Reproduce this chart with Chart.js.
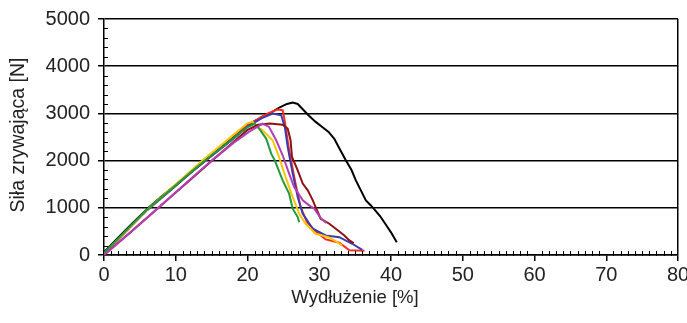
<!DOCTYPE html>
<html>
<head>
    <title>Siła zrywająca</title>
    <script src="https://cdn.jsdelivr.net/npm/chart.js"></script>
    <style>
        html, body {
            margin: 0;
            padding: 0;
            background: #fff;
        }
        #wrap {
            width: 687px;
            height: 323px;
        }
    </style>
</head>
<body>
    <div id="wrap"><canvas id="chart" width="687" height="323"></canvas></div>

    <script>
        // x = wydłużenie [%], y = siła [N]
        const blackX = [0, 2, 4, 6.2, 8, 10, 12, 14.1, 16, 18, 20, 21.5, 23.1, 24.5, 25.5, 26.3, 27, 27.6, 28.5, 29.5, 30.5, 31.3, 32.1, 32.7, 33.7, 34.5, 35.1, 35.8, 36.5, 37.2, 37.8, 38.5, 39.2, 40, 40.8];
        const blackY = [60, 370, 680, 1000, 1240, 1490, 1740, 2000, 2240, 2490, 2760, 2880, 3000, 3130, 3200, 3230, 3200, 3104, 2960, 2820, 2700, 2607, 2460, 2289, 2006, 1800, 1582, 1370, 1157, 1050, 945, 820, 662, 480, 272];

        const yellowX = [0, 2, 4, 6, 8, 10, 12, 14, 16, 18, 20, 20.7, 21.4, 22.1, 23.5, 24.4, 25.3, 26.3, 27.2, 28.1, 29.5, 31.3, 32.5, 33.2];
        const yellowY = [30, 340, 650, 960, 1230, 1500, 1770, 2040, 2290, 2540, 2790, 2820, 2713, 2643, 2431, 2076, 1652, 1227, 875, 662, 450, 378, 272, 200];

        const greenX = [0, 2, 4, 6, 8, 10, 12, 14, 16, 18, 20, 21, 21.6, 22.6, 23.3, 23.8, 24.9, 25.8, 26.3, 27, 27.2];
        const greenY = [40, 350, 660, 960, 1220, 1480, 1740, 1990, 2230, 2470, 2710, 2780, 2680, 2467, 2148, 2006, 1582, 1299, 981, 803, 696];

        const blueX = [0, 2, 4, 6, 8, 10, 12, 14, 16, 18, 20, 22, 23.5, 24.7, 25.2, 25.6, 26.3, 27, 27.7, 29.1, 30.9, 32.8, 34.6, 36];
        const blueY = [30, 340, 650, 950, 1210, 1470, 1730, 1980, 2220, 2460, 2720, 2900, 2998, 2962, 2713, 2289, 1724, 1227, 875, 556, 414, 378, 238, 110];

        const redX = [0, 2, 4, 6, 8, 10, 12, 14, 16, 18, 20, 22, 23, 24.2, 24.9, 25.1, 25.8, 26.7, 27.4, 28.3, 29.5, 30.9, 32.8, 34.2, 36.3];
        const redY = [20, 330, 640, 950, 1210, 1470, 1730, 1980, 2220, 2470, 2740, 2930, 3010, 3083, 3068, 2926, 2219, 1512, 1015, 696, 500, 330, 260, 100, 90];

        const purpleX = [0, 2, 4, 6, 7.6, 10, 12, 15, 18, 20.2, 22.1, 23, 24, 24.9, 25.8, 26.5, 27.7, 28.6, 29.3, 30.2, 31];
        const purpleY = [0, 260, 520, 790, 1000, 1330, 1600, 2000, 2370, 2607, 2785, 2713, 2431, 2113, 1724, 1440, 1157, 1051, 980, 780, 680];

        const maroonX = [0, 3, 6, 9, 12, 15, 18, 20, 21.5, 23.1, 24.9, 25.6, 26, 26.2, 27, 27.7, 28.4, 29.1, 29.5, 30.2, 31.4, 32.3, 33.5, 34.2, 34.8];
        const maroonY = [0, 390, 790, 1190, 1590, 1990, 2390, 2650, 2760, 2785, 2760, 2680, 2431, 2076, 1794, 1512, 1369, 1157, 1015, 769, 662, 556, 414, 308, 251];

        const xTicks = [0, 10, 20, 30, 40, 50, 60, 70, 80];
        const yTicks = [0, 1000, 2000, 3000, 4000, 5000];

        function pts(xs, ys) {
            return xs.map((x, i) => ({ x: x, y: ys[i] }));
        }

        function series(xs, ys, color) {
            return {
                data: pts(xs, ys),
                borderColor: color,
                backgroundColor: color,
                borderWidth: 2,
                pointRadius: 0,
                showLine: true,
                fill: false,
                tension: 0
            };
        }

        // minor ticks and axis titles
        const extras = {
            id: 'extras',
            afterDraw(chart) {
                const ctx = chart.ctx;
                const xs = chart.scales.x;
                const ys = chart.scales.y;
                const area = chart.chartArea;
                ctx.save();
                ctx.strokeStyle = '#000';
                ctx.lineWidth = 1;
                ctx.beginPath();
                for (let v = 1; v < 80; v++) {
                    if (v % 10 === 0) continue;
                    const px = Math.round(xs.getPixelForValue(v)) + 0.5;
                    ctx.moveTo(px, area.bottom + 1);
                    ctx.lineTo(px, area.bottom - 4);
                }
                for (let v = 200; v < 5000; v += 200) {
                    if (v % 1000 === 0) continue;
                    const py = Math.round(ys.getPixelForValue(v)) + 0.5;
                    ctx.moveTo(area.left - 1, py);
                    ctx.lineTo(area.left + 4, py);
                }
                ctx.stroke();

                ctx.fillStyle = '#222';
                ctx.textAlign = 'center';
                ctx.textBaseline = 'middle';
                ctx.font = '18.5px "Liberation Sans", Arial, sans-serif';
                ctx.fillText('Wydłużenie [%]', 355, 298);
                ctx.font = '19.5px "Liberation Sans", Arial, sans-serif';
                ctx.translate(19, 135);
                ctx.rotate(-Math.PI / 2);
                ctx.fillText('Siła zrywająca [N]', 0, 0);
                ctx.restore();
            }
        };

        const tickFont = { family: '"Liberation Sans", Arial, sans-serif', size: 20 };

        new Chart(document.getElementById('chart'), {
            type: 'scatter',
            data: {
                datasets: [
                    series(purpleX, purpleY, '#b23fb4'),
                    series(maroonX, maroonY, '#8e1212'),
                    series(greenX, greenY, '#1f9a3c'),
                    series(yellowX, yellowY, '#ffc400'),
                    series(blueX, blueY, '#3b3bb0'),
                    series(redX, redY, '#ff2b1c'),
                    series(blackX, blackY, '#000000')
                ]
            },
            options: {
                responsive: false,
                animation: false,
                layout: {
                    padding: { top: 19, right: 9, left: 0, bottom: 0 }
                },
                plugins: {
                    legend: { display: false },
                    tooltip: { enabled: false }
                },
                scales: {
                    x: {
                        type: 'linear',
                        min: 0,
                        max: 80,
                        afterBuildTicks: s => { s.ticks = xTicks.map(v => ({ value: v })); },
                        afterFit: s => { s.height = 68; s.paddingRight = 0; s.paddingLeft = 0; },
                        ticks: {
                            color: '#222',
                            padding: 2,
                            font: tickFont,
                            callback: v => String(v)
                        },
                        grid: {
                            color: c => (c.tick && c.tick.value === 80 ? '#000' : 'rgba(0,0,0,0)'),
                            lineWidth: 1.5,
                            tickColor: '#000',
                            tickLength: 6,
                            drawTicks: true
                        },
                        border: { color: '#000', width: 1.5 }
                    },
                    y: {
                        type: 'linear',
                        min: 0,
                        max: 5000,
                        afterBuildTicks: s => { s.ticks = yTicks.map(v => ({ value: v })); },
                        afterFit: s => { s.width = 104; s.paddingTop = 0; s.paddingBottom = 0; },
                        ticks: {
                            color: '#222',
                            padding: 8,
                            font: tickFont,
                            callback: v => String(v)
                        },
                        grid: {
                            color: '#000',
                            lineWidth: 1.5,
                            tickColor: '#000',
                            tickLength: 6
                        },
                        border: { color: '#000', width: 1.5 }
                    }
                }
            },
            plugins: [extras]
        });
    </script>
</body>
</html>
